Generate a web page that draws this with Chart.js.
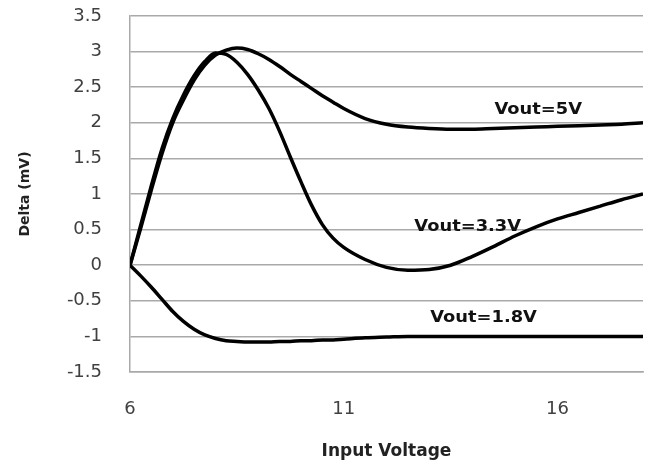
<!DOCTYPE html>
<html>
<head>
<meta charset="utf-8">
<script src="https://cdn.jsdelivr.net/npm/chart.js@4/dist/chart.umd.min.js"></script>
<style>
  html, body { margin: 0; padding: 0; background: #ffffff; }
  #wrap { width: 650px; height: 469px; }
</style>
</head>
<body>
<div id="wrap"><canvas id="c" width="650" height="469"></canvas></div>
<script>
// ---- Data ----
const inputVoltage = [6, 6.25, 6.5, 6.75, 7, 7.25, 7.5, 7.75, 8, 8.25, 8.5, 8.75, 9, 9.25, 9.5, 9.75, 10, 10.25, 10.5, 10.75, 11, 11.5, 12, 12.5, 13, 13.5, 14, 14.5, 15, 15.5, 16, 16.5, 17, 17.5, 18];
const vout5 = [0, 0.52, 1.06, 1.57, 2.0, 2.32, 2.6, 2.81, 2.95, 3.02, 3.05, 3.03, 2.97, 2.89, 2.79, 2.68, 2.58, 2.48, 2.38, 2.29, 2.2, 2.06, 1.98, 1.94, 1.92, 1.91, 1.91, 1.92, 1.93, 1.94, 1.95, 1.96, 1.97, 1.98, 2.0];
const vout33 = [0, 0.56, 1.12, 1.64, 2.06, 2.39, 2.66, 2.86, 2.98, 2.96, 2.85, 2.68, 2.46, 2.2, 1.88, 1.52, 1.17, 0.84, 0.57, 0.38, 0.25, 0.08, -0.03, -0.07, -0.06, 0.0, 0.12, 0.26, 0.41, 0.54, 0.65, 0.74, 0.83, 0.92, 1.0];
const vout18 = [0, -0.15, -0.31, -0.48, -0.65, -0.79, -0.9, -0.98, -1.03, -1.06, -1.07, -1.08, -1.08, -1.08, -1.07, -1.07, -1.06, -1.06, -1.05, -1.05, -1.04, -1.02, -1.01, -1.0, -1.0, -1.0, -1.0, -1.0, -1.0, -1.0, -1.0, -1.0, -1.0, -1.0, -1.0];

const xTicks = [6, 11, 16];
const yTicks = [-1.5, -1, -0.5, 0, 0.5, 1, 1.5, 2, 2.5, 3, 3.5];

const curveLabelText = ['Vout=5V', 'Vout=3.3V', 'Vout=1.8V'];
const curveLabelX = [15.55, 13.9, 14.27];
const curveLabelY = [2.18, 0.53, -0.74];

const toPoints = ys => ys.map((v, i) => ({ x: inputVoltage[i], y: v }));

const GRID = '#a9a9a9';

const curveLabels = {
  id: 'curveLabels',
  afterDatasetsDraw(chart) {
    const { ctx, scales: { x, y } } = chart;
    ctx.save();
    ctx.font = 'bold 15px "DejaVu Sans"';
    ctx.fillStyle = '#111111';
    ctx.textAlign = 'center';
    ctx.textBaseline = 'middle';
    curveLabelText.forEach((t, i) => {
      const px = x.getPixelForValue(curveLabelX[i]);
      const py = y.getPixelForValue(curveLabelY[i]);
      ctx.save();
      ctx.translate(px, py);
      ctx.scale(1.19, 1);
      ctx.fillText(t, 0, 0);
      ctx.restore();
    });
    ctx.restore();
  }
};

const lineStyle = {
  borderColor: '#000000',
  borderWidth: 3.5,
  pointRadius: 0,
  pointHoverRadius: 0,
  fill: false,
  cubicInterpolationMode: 'monotone'
};

new Chart(document.getElementById('c'), {
  type: 'line',
  data: {
    datasets: [
      Object.assign({ label: 'Vout=5V', data: toPoints(vout5) }, lineStyle),
      Object.assign({ label: 'Vout=3.3V', data: toPoints(vout33) }, lineStyle),
      Object.assign({ label: 'Vout=1.8V', data: toPoints(vout18) }, lineStyle)
    ]
  },
  options: {
    responsive: false,
    devicePixelRatio: 1,
    animation: false,
    events: [],
    layout: { padding: { top: 16, right: 7, bottom: 0, left: 0 } },
    plugins: { legend: { display: false }, tooltip: { enabled: false } },
    scales: {
      x: {
        type: 'linear',
        min: 6,
        max: 18,
        afterBuildTicks: s => { s.ticks = xTicks.map(v => ({ value: v })); },
        afterFit: s => { s.height = 97; s.paddingLeft = 0; s.paddingRight = 0; },
        ticks: {
          font: { family: 'DejaVu Sans', size: 18 },
          color: '#404040',
          padding: 27,
          autoSkip: false,
          maxRotation: 0,
          callback: v => String(v)
        },
        grid: { display: false, drawTicks: false },
        border: { display: true, color: GRID, width: 1.5 },
        title: {
          display: true,
          text: 'Input Voltage',
          font: { family: 'DejaVu Sans', size: 17, weight: 'bold' },
          color: '#222222',
          padding: { top: 0, bottom: 7 }
        }
      },
      y: {
        type: 'linear',
        min: -1.5,
        max: 3.5,
        afterBuildTicks: s => { s.ticks = yTicks.map(v => ({ value: v })); },
        afterFit: s => { s.width = 130; s.paddingTop = 0; s.paddingBottom = 0; },
        ticks: {
          font: { family: 'DejaVu Sans', size: 18 },
          color: '#404040',
          padding: 28,
          callback: v => String(v)
        },
        grid: { color: GRID, lineWidth: 1.5, drawTicks: false },
        border: { display: true, color: GRID, width: 1.5 },
        title: {
          display: true,
          text: 'Delta (mV)',
          font: { family: 'DejaVu Sans', size: 14, weight: 'bold' },
          color: '#222222',
          padding: { top: 17, bottom: 0 }
        }
      }
    }
  },
  plugins: [curveLabels]
});
</script>
</body>
</html>
